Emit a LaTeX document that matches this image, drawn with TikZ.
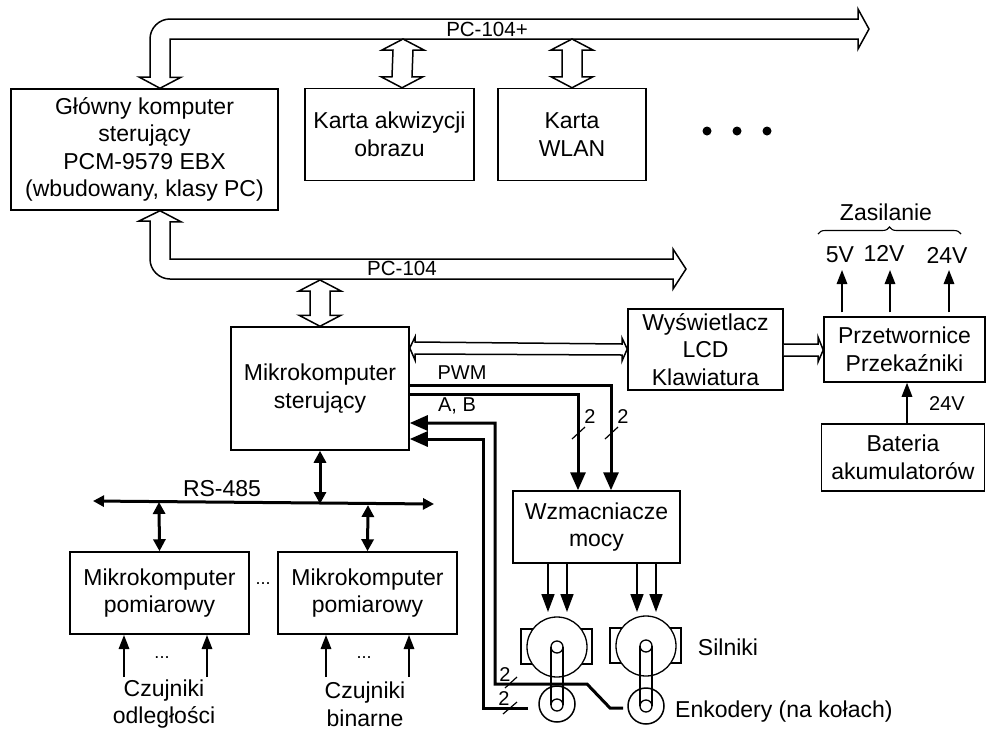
\documentclass[tikz,border=0pt]{standalone}
\usepackage{fontspec}
\setmainfont{Liberation Sans}
\usetikzlibrary{arrows.meta,calc,decorations.pathreplacing}
\tikzset{
  every node/.style={font=\fontsize{23}{27.6}\selectfont, inner sep=0pt, align=center},
  boxn/.style={draw=black, line width=1.5pt, fill=white},
  hollow/.style={draw=black, line width=1.5pt, fill=white, line join=miter},
  thinarrow/.style={line width=1.6pt, -{Triangle[length=14pt,width=10.5pt]}},
  bigarrow/.style={line width=1.6pt, -{Triangle[length=18pt,width=13pt]}},
  thickarrow/.style={line width=3pt, -{Triangle[length=18pt,width=15pt]}},
  dblarrow/.style={line width=3pt, {Triangle[length=12pt,width=12pt]}-{Triangle[length=12pt,width=12pt]}},
  tick/.style={line width=1.2pt},
  small/.style={font=\fontsize{20}{24}\selectfont},
  buslabel/.style={font=\fontsize{20.5}{24}\selectfont},
  tiny dots/.style={font=\fontsize{18}{20}\selectfont},
}
\newcommand{\hollowV}[2]{%
  \draw[hollow] (#1) -- ([shift={(21,11)}]#1) -- ([shift={(10,11)}]#1) -- ([shift={(10,-11)}]#2) -- ([shift={(21,-11)}]#2) -- (#2) -- ([shift={(-21,-11)}]#2) -- ([shift={(-10,-11)}]#2) -- ([shift={(-10,11)}]#1) -- ([shift={(-21,11)}]#1) -- cycle;}
\begin{document}
\begin{tikzpicture}[x=1pt,y=-1pt]
\useasboundingbox (0,0) rectangle (986,729);
% boxes
\node[boxn, minimum width=267pt, minimum height=121pt] (main) at (144.5,149.5) {Główny komputer\\sterujący\\PCM-9579 EBX\\(wbudowany, klasy PC)};
\node[boxn, minimum width=169pt, minimum height=92pt] (karta) at (389.5,134.5) {Karta akwizycji\\obrazu};
\node[boxn, minimum width=148pt, minimum height=92pt] (wlan) at (572,134.5) {Karta\\WLAN};
\node[boxn, minimum width=178pt, minimum height=123pt] (mikro) at (320,388.5) {Mikrokomputer\\sterujący};
\node[boxn, minimum width=155pt, minimum height=81pt] (lcd) at (705.5,349.5) {Wyświetlacz\\LCD\\Klawiatura};
\node[boxn, minimum width=161pt, minimum height=65pt] (przet) at (904.5,349.5) {Przetwornice\\Przekaźniki};
\node[boxn, minimum width=163pt, minimum height=67pt] (bat) at (903,457.5) {Bateria\\akumulatorów};
\node[boxn, minimum width=167pt, minimum height=72pt] (wzm) at (596.5,527) {Wzmacniacze\\mocy};
\node[boxn, minimum width=179pt, minimum height=82pt] (pom1) at (159.5,593) {Mikrokomputer\\pomiarowy};
\node[boxn, minimum width=179pt, minimum height=82pt] (pom2) at (367.5,593) {Mikrokomputer\\pomiarowy};
% dots
\fill (707,131) circle (4.5pt) (737,131) circle (4.5pt) (767,131) circle (4.5pt);
% PC-104+ bus
\coordinate (pcpTipL) at (160,88);
\draw[hollow] (main.north -| pcpTipL) -- ++(21,-11) -- ++(-11,0) -- (170,39) -- (858,39) -- (858,49) -- (869,29) -- (858,9) -- (858,19) -- (170,19) .. controls (159,19) and (150,28) .. (150,39) -- (150,77) -- (139,77) -- cycle;
\node[buslabel] (pcp) at (487,29) {PC-104+};
% PC-104 bus
\draw[hollow] (main.south -| pcpTipL) -- ++(21,11) -- ++(-11,0) -- (170,259) -- (673,259) -- (673,249) -- (686,269) -- (673,289) -- (673,279) -- (170,279) .. controls (159,279) and (150,270) .. (150,259) -- (150,221) -- (139,221) -- cycle;
\node[buslabel] (pc) at (402,268) {PC-104};
% hollow double arrows
\coordinate (b1) at (403,39);
\coordinate (b2) at (572,39);
\coordinate (b3) at (320,280);
\coordinate (b1x) at (402,0);
\coordinate (b2x) at (572,0);
\hollowV{b1}{karta.north -| b1x}
\hollowV{b2}{wlan.north -| b2x}
\hollowV{b3}{mikro.north}
% horizontal hollow double arrow
\draw[hollow] (mikro.east |- 0,348) -- (415,337) -- (415,342) -- (622,344) -- (622,338) -- (lcd.west |- 0,349) -- (622,361) -- (622,355) -- (415,354) -- (415,360) -- cycle;
% LCD -> converters
\draw[hollow] (lcd.east |- 0,344) -- (818,344) -- (818,337) -- (przet.west |- 0,350) -- (818,362) -- (818,356) -- (lcd.east |- 0,356);
% power outputs
\foreach \xx/\nm in {842/a,890/b,949/c}{
  \coordinate (out\nm) at (\xx,270);
  \draw[thinarrow] (przet.north -| out\nm) ++(0,-4) -- (out\nm);
}
\node (v5) at (840,255) {5V};
\node (v12) at (884,253) {12V};
\node (v24) at (947,255) {24V};
\node (zas) at (886,212) {Zasilanie};
\coordinate (brL) at (818,234);
\coordinate (brR) at (961,234);
\draw[line width=1.1pt, decorate, decoration={brace, amplitude=7pt}] (brL) -- (brR);
\coordinate (batup) at (907,0);
\draw[thinarrow] (bat.north -| batup) -- (przet.south -| batup);
\node[small] (v24b) at (947,404) {24V};
% PWM
\coordinate (pwmA) at (578,0);
\coordinate (pwmB) at (611,0);
\coordinate (pwmAy) at (0,394.5);
\coordinate (pwmBy) at (0,385);
\draw[thickarrow] (mikro.east |- pwmAy) -| (wzm.north -| pwmA);
\draw[thickarrow] (mikro.east |- pwmBy) -| (wzm.north -| pwmB);
\node[small] (pwmlab) at (462,373) {PWM};
\draw[tick] (572,439) -- (585,427);
\draw[tick] (605,439) -- (618,427);
\node[small] (n1) at (590,417) {2};
\node[small] (n2) at (623,417) {2};
% encoders
\node (e1) [minimum size=36pt, circle, draw=black, line width=1.5pt] at (557,704) {};
\node (e2) [minimum size=36pt, circle, draw=black, line width=1.5pt] at (646,706) {};
% encoder feedback
\coordinate (ab1) at (495,423);
\coordinate (ab2) at (483,439);
\coordinate (e1end) at (528,708);
\coordinate (e2end) at (623,708);
\draw[thickarrow] (e2end) -- (610,708) -- (587,684) -- (495,684) -- (ab1) -- (mikro.east |- ab1);
\draw[thickarrow] (e1end) -- (483,708) -- (ab2) -- (mikro.east |- ab2);
\node[small] (ablab) at (457,406) {A, B};
\draw[tick] (505,688) -- (517,677);
\draw[tick] (503,714) -- (517,702);
\node[small] (n3) at (505,675) {2};
\node[small] (n4) at (504,699) {2};
% motors
\foreach \cx/\cy/\ey/\nm in {557/647/705/m1,646/646/706/m2}{
  \draw[boxn, line width=1.3pt] (\cx-36,\cy-18) rectangle (\cx+35,\cy+17);
  \node (\nm) [circle, draw=black, fill=white, line width=1.3pt, minimum size=60pt] at (\cx,\cy) {};
  \draw[line width=1.3pt] (\cx-6,\ey) -- (\cx-6,\cy) (\cx+6,\cy) -- (\cx+6,\ey);
  \draw[line width=1.3pt] (\cx,\cy) circle (6pt) (\cx,\ey) circle (6pt);
}
\foreach \xx/\nm in {548/a,567/b}{\coordinate (ta\nm) at (\xx,612); \draw[bigarrow] (wzm.south -| ta\nm) -- (ta\nm);}
\foreach \xx/\nm in {637/a,656/b}{\coordinate (tb\nm) at (\xx,612); \draw[bigarrow] (wzm.south -| tb\nm) -- (tb\nm);}
\node (sil) at (728,647) {Silniki};
\node (enk) [anchor=west] at (675,712) {Enkodery (na kołach)};
% RS-485
\coordinate (rsL) at (93,501);
\coordinate (rsR) at (434,504);
\draw[line width=3pt, {Triangle[length=11pt,width=11pt]}-{Triangle[length=11pt,width=11pt]}] (rsL) -- (rsR);
\node (rs) at (222,489) {RS-485};
\coordinate (rsm) at (320,504);
\coordinate (rsa) at (159,502);
\coordinate (rsb) at (368,505);
\draw[dblarrow] (mikro.south) -- (rsm);
\draw[dblarrow] (rsa) -- (pom1.north);
\draw[dblarrow] (rsb) -- (pom2.north);
\node[tiny dots] (dots0) at (263,584) {...};
% sensors
\foreach \xx/\nm in {124/a,207/b,326/c,409/d}{
  \coordinate (s\nm) at (\xx,677);
  \draw[thinarrow] (s\nm) -- (\xx,635);
}
\node[tiny dots] (dots1) at (162,658) {...};
\node[tiny dots] (dots2) at (364,658) {...};
\node (cz1) at (164,704) {Czujniki\\odległości};
\node (cz2) at (365,704) {Czujniki\\binarne};
\end{tikzpicture}
\end{document}
